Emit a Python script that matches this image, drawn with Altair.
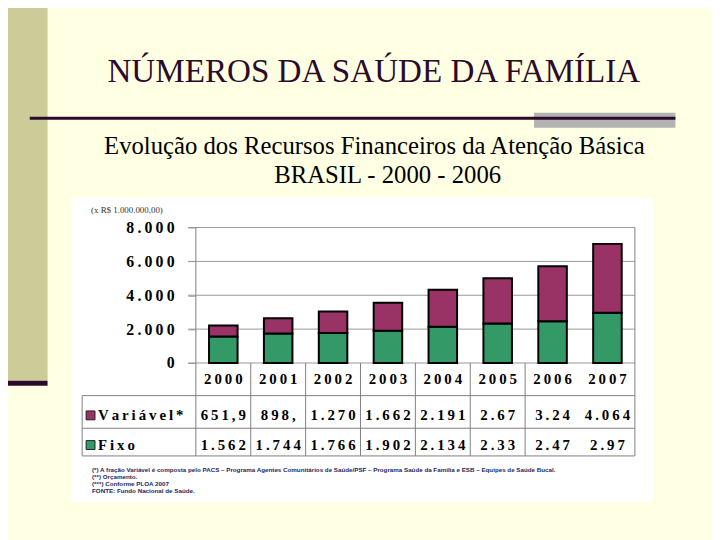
import altair as alt
import pandas as pd

# ---------------- data ----------------
years = ["2000", "2001", "2002", "2003", "2004", "2005", "2006", "2007"]
fixo = [1562, 1744, 1766, 1902, 2134, 2330, 2470, 2970]
variavel = [651.9, 898, 1270, 1662, 2191, 2670, 3240, 4064]
variavel_labels = ["651,9", "898,", "1.270", "1.662", "2.191", "2.67", "3.24", "4.064"]
fixo_labels = ["1.562", "1.744", "1.766", "1.902", "2.134", "2.33", "2.47", "2.97"]
series_names = ["Variável*", "Fixo"]
y_ticks = [0, 2000, 4000, 6000, 8000]
separator_years = ["2001", "2002", "2003", "2004", "2005", "2006"]

title = "NÚMEROS DA SAÚDE DA FAMÍLIA"
subtitle1 = "Evolução dos Recursos Financeiros da Atenção Básica"
subtitle2 = "BRASIL - 2000 - 2006"
unit_note = "(x R$ 1.000.000,00)"
footnotes = [
    "(*) A fração Variável é composta pelo PACS – Programa Agentes Comunitários de Saúde/PSF – Programa Saúde da Família e ESB – Equipes de Saúde Bucal.",
    "(**) Orçamento.",
    "(***) Conforme PLOA 2007",
    "FONTE: Fundo Nacional de Saúde.",
]

# ---------------- style ----------------
PLUM = "#993366"
GREEN = "#339966"
DARK = "#2B0A2B"
OLIVE = "#CCCC99"
CREAM = "#FFFFE3"
GRID = "#999999"
TABLE = "#808080"
SERIF = "Liberation Serif, Times New Roman, DejaVu Serif, serif"
W, H = 444, 137


def spaced(s):
    return "\u2009".join(s)


one = pd.DataFrame({"k": [0]})
xscale = alt.Scale(domain=years, paddingInner=0.48, paddingOuter=0.24)
yscale = alt.Scale(domain=[0, 8000], nice=False)


def rect(x1, x2, y1, y2, color):
    return alt.Chart(one).mark_rect(color=color).encode(
        x=alt.value(x1), x2=alt.value(x2), y=alt.value(y1), y2=alt.value(y2))


def rule(x1, x2, y1, y2, color=TABLE, w=1):
    return alt.Chart(one).mark_rule(color=color, strokeWidth=w).encode(
        x=alt.value(x1), x2=alt.value(x2), y=alt.value(y1), y2=alt.value(y2))


def label(text, x, y, size, font=SERIF, weight="normal", color="black",
          align="center", baseline="alphabetic"):
    return alt.Chart(one).mark_text(
        text=text, fontSize=size, font=font, fontWeight=weight, color=color,
        align=align, baseline=baseline).encode(x=alt.value(x), y=alt.value(y))


# ---------------- slide decorations ----------------
deco = [
    rect(-200, -150, -230, 155, OLIVE),
    rect(-200, -150, 155, 160, DARK),
    rect(342, 485, -116, -101, "#B3B3B3"),
    rect(-168, 485, -112, -109, DARK),
    label(title, 180, -147, 33.5, color=DARK),
    label(subtitle1, 180.5, -74, 25),
    label(subtitle2, 194, -45, 25),
    rect(-126, 462, -30, 278, "white"),
    label(unit_note, -106, -18, 9, color="#333333", align="left", baseline="middle"),
]

# ---------------- chart ----------------
y_label_expr = "join(split(replace(format(datum.value, ','), ',', '.'), ''), '\u2009')"
y_axis = alt.Axis(values=y_ticks, grid=False, domain=False, ticks=True,
                  tickColor=GRID, tickSize=8, labelFont=SERIF,
                  labelFontWeight="bold", labelFontSize=16,
                  labelColor="black", labelPadding=14,
                  labelExpr=y_label_expr, title=None, zindex=1)

grid = alt.Chart(pd.DataFrame({"tick": y_ticks})).mark_rule(
    color=GRID, strokeWidth=1).encode(
    y=alt.Y("tick:Q", scale=yscale, axis=y_axis),
    x=alt.value(-8), x2=alt.value(W))

bars_df = pd.DataFrame({
    "year": years * 2,
    "series": ["Fixo"] * len(years) + ["Variável*"] * len(years),
    "value": fixo + variavel,
    "stack_order": [0] * len(years) + [1] * len(years),
})

bars = alt.Chart(bars_df).mark_bar(stroke="black", strokeWidth=2).encode(
    x=alt.X("year:N", sort=years, scale=xscale, axis=None),
    y=alt.Y("value:Q", stack="zero", scale=yscale, axis=y_axis),
    color=alt.Color("series:N", scale=alt.Scale(domain=series_names, range=[PLUM, GREEN]),
                    legend=None),
    order=alt.Order("stack_order:Q"),
)

# ---------------- table ----------------
table_lines = [
    rule(0, 0, 0, 231),
    rule(W, W, 0, 231),
    rule(-115, W, 170, 170),
    rule(-115, W, 203, 203),
    rule(-115, W, 231, 231),
    rule(-115, -115, 170, 231),
]

separators = alt.Chart(pd.DataFrame({"year": separator_years})).mark_rule(
    color=TABLE, strokeWidth=1, xOffset=-13.32).encode(
    x=alt.X("year:N", sort=years, scale=xscale, bandPosition=0, axis=None),
    y=alt.value(H), y2=alt.value(231))

text_style = dict(font=SERIF, fontWeight="bold", fontSize=15, color="black",
                  align="center", baseline="middle")

year_text = alt.Chart(pd.DataFrame({"year": years, "lab": [spaced(y) for y in years]})).mark_text(
    **text_style).encode(
    x=alt.X("year:N", sort=years, scale=xscale, axis=None),
    y=alt.value(153), text="lab:N")

var_text = alt.Chart(pd.DataFrame({"year": years, "lab": [spaced(v) for v in variavel_labels]})).mark_text(
    **text_style).encode(
    x=alt.X("year:N", sort=years, scale=xscale, axis=None),
    y=alt.value(190), text="lab:N")

fixo_text = alt.Chart(pd.DataFrame({"year": years, "lab": [spaced(v) for v in fixo_labels]})).mark_text(
    **text_style).encode(
    x=alt.X("year:N", sort=years, scale=xscale, axis=None),
    y=alt.value(220), text="lab:N")

row_labels = [
    alt.Chart(one).mark_rect(color=PLUM, stroke="#222222", strokeWidth=1).encode(
        x=alt.value(-111), x2=alt.value(-102), y=alt.value(185.5), y2=alt.value(194.5)),
    alt.Chart(one).mark_rect(color=GREEN, stroke="#222222", strokeWidth=1).encode(
        x=alt.value(-111), x2=alt.value(-102), y=alt.value(215.5), y2=alt.value(224.5)),
    label(spaced(series_names[0]), -99, 190, 15, weight="bold", align="left", baseline="middle"),
    label(spaced(series_names[1]), -99, 220, 15, weight="bold", align="left", baseline="middle"),
]

notes = [
    label(t, -105, 245 + 7 * i, 6.3, font="Liberation Sans", weight="bold",
          color="#26265C", align="left", baseline="middle")
    for i, t in enumerate(footnotes)
]

chart = alt.layer(
    *deco, grid, bars, *table_lines, separators, year_text, var_text, fixo_text,
    *row_labels, *notes
).properties(
    width=W, height=H,
    padding={"left": 190, "top": 219, "right": 78, "bottom": 176},
    autosize=alt.AutoSizeParams(type="none"),
    background=CREAM,
).configure_view(strokeWidth=0)

chart.save("out.html", embed_options={"renderer": "svg", "actions": False})
